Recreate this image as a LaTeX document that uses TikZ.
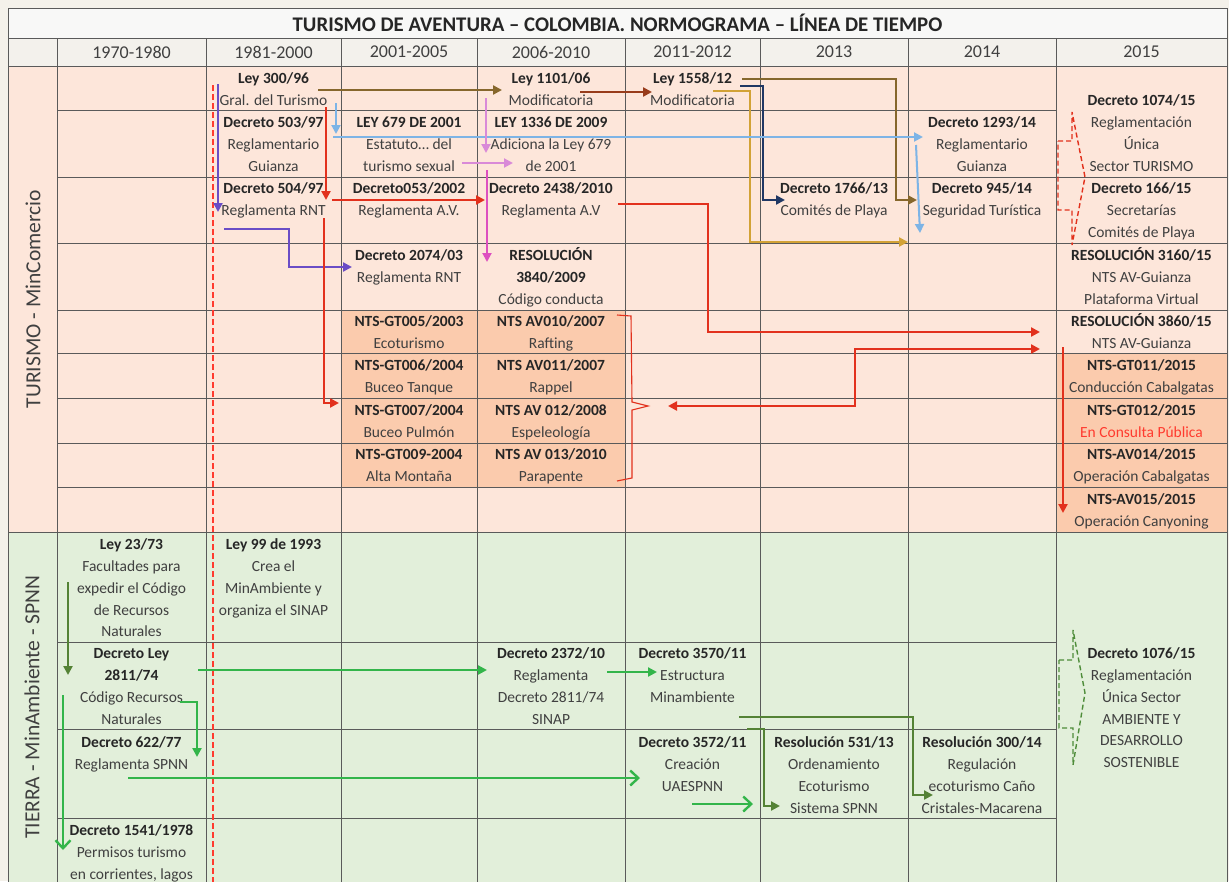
\documentclass[tikz,border=0pt]{standalone}
\usepackage{fontspec}
\setmainfont{Carlito}
\usetikzlibrary{arrows.meta}
\definecolor{bgout}{HTML}{F4F1EA}
\definecolor{hdr}{HTML}{F3F1EC}
\definecolor{ttl}{HTML}{F8F8F7}
\definecolor{pinkbg}{HTML}{FDE6DA}
\definecolor{orbg}{HTML}{FBCBAD}
\definecolor{grbg}{HTML}{E2EFDA}
\definecolor{gridc}{HTML}{5A5A5A}
\definecolor{txt}{HTML}{404040}
\definecolor{txtb}{HTML}{262626}
\definecolor{cred}{HTML}{E2311D}
\definecolor{cpink}{HTML}{FF3B2F}
\definecolor{cpurple}{HTML}{6A4DC6}
\definecolor{cbrown}{HTML}{86672C}
\definecolor{crust}{HTML}{983C1B}
\definecolor{cnavy}{HTML}{203864}
\definecolor{cgold}{HTML}{D2A236}
\definecolor{cblue}{HTML}{7DB4E6}
\definecolor{cpinkL}{HTML}{D98AD8}
\definecolor{cpinkD}{HTML}{DD50C0}
\definecolor{cgreen}{HTML}{33B54A}
\definecolor{cdgreen}{HTML}{548235}
\newcommand\bt[1]{\rule{0pt}{17pt}\textbf{\color{txtb}#1}}
\tikzset{
  gridl/.style={draw=gridc, line width=0.9pt},
  cell/.style={align=center, anchor=north, inner sep=0pt, font=\fontsize{15.5}{21.8}\selectfont, text=txt},
  yr/.style={inner sep=0pt, font=\fontsize{18}{21}\selectfont, text=txt},
  side/.style={inner sep=0pt, rotate=90, font=\fontsize{21.5}{24}\selectfont, text=txt},
  ar/.style={line width=2.6pt, -{Triangle[length=9pt,width=9pt]}},
  arthin/.style={line width=2pt, -{Triangle[length=9pt,width=9pt]}},
  arO/.style={line width=2.4pt, -{Straight Barb[length=8pt,width=15pt]}},
  blockar/.style={line width=1.4pt, dash pattern=on 5pt off 3pt}
}
\begin{document}
\begin{tikzpicture}[x=1pt,y=-1pt]
\useasboundingbox (0,0) rectangle (1229,881);
\clip (0,0) rectangle (1229,881);
\fill[bgout] (0,0) rectangle (1229,881);
% backgrounds
\fill[ttl] (8,8) rectangle (1227,38);
\fill[hdr] (8,38) rectangle (1227,66);
\fill[pinkbg] (8,66) rectangle (1227,532);
\fill[orbg] (341,310) rectangle (625,487);
\fill[orbg] (1056,353) rectangle (1227,532);
\fill[grbg] (8,532) rectangle (1227,900);
% grid
\draw[gridl] (8,8) rectangle (1227,900);
\draw[gridl] (8,38) -- (1227,38) (8,66) -- (1227,66) (8,532) -- (1227,532);
\foreach \x in {57,206,341,477,625,760,908,1056} \draw[gridl] (\x,38) -- (\x,900);
\draw[gridl] (57,110) -- (1056,110);
\foreach \y in {177,243,310,353,398,443,487} \draw[gridl] (57,\y) -- (1227,\y);
\foreach \y in {642,729,818} \draw[gridl] (57,\y) -- (1056,\y);
% title and years
\node[inner sep=0pt, font=\fontsize{20.8}{24}\selectfont\bfseries, text=txtb] (title) at (617.5,23) {TURISMO DE AVENTURA – COLOMBIA. NORMOGRAMA – LÍNEA DE TIEMPO};
\node[yr] (y1) at (131.5,52) {1970-1980};
\node[yr] (y2) at (273.5,52) {1981-2000};
\node[yr] (y3) at (409,52) {2001-2005};
\node[yr] (y4) at (551,52) {2006-2010};
\node[yr] (y5) at (692.5,52) {2011-2012};
\node[yr] (y6) at (834,52) {2013};
\node[yr] (y7) at (982,52) {2014};
\node[yr] (y8) at (1141.5,52) {2015};
\node[side] (lt) at (33,299) {TURISMO - MinComercio};
\node[side] (lg) at (32,707) {TIERRA - MinAmbiente - SPNN};
% 1970-1980
\node[cell] (n23) at (131.5,532.5) {\bt{Ley 23/73}\\Facultades para\\expedir el Código\\de Recursos\\Naturales};
\node[cell] (n2811) at (131.5,641.5) {\bt{Decreto Ley}\\\bt{2811/74}\\Código Recursos\\Naturales};
\node[cell] (n622) at (131.5,730.5) {\bt{Decreto 622/77}\\Reglamenta SPNN};
\node[cell] (n1541) at (131.5,818.5) {\bt{Decreto 1541/1978}\\Permisos turismo\\en corrientes, lagos};
% 1981-2000
\node[cell] (n300) at (273.5,66.5) {\bt{Ley 300/96}\\Gral. del Turismo};
\node[cell] (n503) at (273.5,110.5) {\bt{Decreto 503/97}\\Reglamentario\\Guianza};
\node[cell] (n504) at (273.5,176.5) {\bt{Decreto 504/97}\\Reglamenta RNT};
\node[cell] (n99) at (273.5,532.5) {\bt{Ley 99 de 1993}\\Crea el\\MinAmbiente y\\organiza el SINAP};
% 2001-2005
\node[cell] (n679) at (409,110.5) {\bt{LEY 679 DE 2001}\\Estatuto… del\\turismo sexual};
\node[cell] (n053) at (409,176.5) {\bt{Decreto053/2002}\\Reglamenta A.V.};
\node[cell] (n2074) at (409,243.5) {\bt{Decreto 2074/03}\\Reglamenta RNT};
\node[cell] (gt005) at (409,309.5) {\bt{NTS-GT005/2003}\\Ecoturismo};
\node[cell] (gt006) at (409,353.5) {\bt{NTS-GT006/2004}\\Buceo Tanque};
\node[cell] (gt007) at (409,398.5) {\bt{NTS-GT007/2004}\\Buceo Pulmón};
\node[cell] (gt009) at (409,442.5) {\bt{NTS-GT009-2004}\\Alta Montaña};
% 2006-2010
\node[cell] (n1101) at (551,66.5) {\bt{Ley 1101/06}\\Modificatoria};
\node[cell] (n1336) at (551,110.5) {\bt{LEY 1336 DE 2009}\\Adiciona la Ley 679\\de 2001};
\node[cell] (n2438) at (551,176.5) {\bt{Decreto 2438/2010}\\Reglamenta A.V};
\node[cell] (n3840) at (551,243.5) {\bt{RESOLUCIÓN}\\\bt{3840/2009}\\Código conducta};
\node[cell] (av010) at (551,309.5) {\bt{NTS AV010/2007}\\Rafting};
\node[cell] (av011) at (551,353.5) {\bt{NTS AV011/2007}\\Rappel};
\node[cell] (av012) at (551,398.5) {\bt{NTS AV 012/2008}\\Espeleología};
\node[cell] (av013) at (551,442.5) {\bt{NTS AV 013/2010}\\Parapente};
\node[cell] (n2372) at (551,641.5) {\bt{Decreto 2372/10}\\Reglamenta\\Decreto 2811/74\\SINAP};
% 2011-2012
\node[cell] (n1558) at (692.5,66.5) {\bt{Ley 1558/12}\\Modificatoria};
\node[cell] (n3570) at (692.5,641.5) {\bt{Decreto 3570/11}\\Estructura\\Minambiente};
\node[cell] (n3572) at (692.5,730.5) {\bt{Decreto 3572/11}\\Creación\\UAESPNN};
% 2013
\node[cell] (n1766) at (834,176.5) {\bt{Decreto 1766/13}\\Comités de Playa};
\node[cell] (n531) at (834,730.5) {\bt{Resolución 531/13}\\Ordenamiento\\Ecoturismo\\Sistema SPNN};
% 2014
\node[cell] (n1293) at (982,110.5) {\bt{Decreto 1293/14}\\Reglamentario\\Guianza};
\node[cell] (n945) at (982,176.5) {\bt{Decreto 945/14}\\Seguridad Turística};
\node[cell] (n300r) at (982,730.5) {\bt{Resolución 300/14}\\Regulación\\ecoturismo Caño\\Cristales-Macarena};
% 2015
\node[cell] (n1074) at (1141.5,88.5) {\bt{Decreto 1074/15}\\Reglamentación\\Única\\Sector TURISMO};
\node[cell] (n166) at (1141.5,176.5) {\bt{Decreto 166/15}\\Secretarías\\Comités de Playa};
\node[cell] (n3160) at (1141.5,243.5) {\bt{RESOLUCIÓN 3160/15}\\NTS AV-Guianza\\Plataforma Virtual};
\node[cell] (n3860) at (1141.5,309.5) {\bt{RESOLUCIÓN 3860/15}\\NTS AV-Guianza};
\node[cell] (gt011) at (1141.5,353.5) {\bt{NTS-GT011/2015}\\Conducción Cabalgatas};
\node[cell] (gt012) at (1141.5,398.5) {\bt{NTS-GT012/2015}\\\textcolor{cpink}{En Consulta Pública}};
\node[cell] (av014) at (1141.5,442.5) {\bt{NTS-AV014/2015}\\Operación Cabalgatas};
\node[cell] (av015) at (1141.5,487.5) {\bt{NTS-AV015/2015}\\Operación Canyoning};
\node[cell] (n1076) at (1141.5,641.5) {\bt{Decreto 1076/15}\\Reglamentación\\Única Sector\\AMBIENTE Y\\DESARROLLO\\SOSTENIBLE};
% block arrows
\draw[blockar, cred] (1058,141) -- (1072,141) -- (1072,112) -- (1085,177) -- (1072,245) -- (1072,210) -- (1058,210) -- cycle;
\draw[blockar, cdgreen!80!cgreen] (1059,660) -- (1073,660) -- (1073,630) -- (1085,693) -- (1073,765) -- (1073,728) -- (1059,728) -- cycle;
% bracket
\draw[cred, line width=1.1pt] (617,315) -- (631,316) -- (632,402) -- (648,406) -- (632,410) -- (632,478) -- (617,481);
% red dashed time line
\draw[cpink, line width=2pt, dash pattern=on 6pt off 3pt] (213,85) -- (213,900);
% purple
\draw[ar, cpurple] (218,84) -- (218,212);
\draw[ar, cpurple] (224,229) -- (289,229) -- (289,267) -- (352,267);
% browns / golds / navy
\draw[ar, cbrown] (318,90) -- (502,90);
\draw[ar, crust] (580,92) -- (652,92);
\draw[ar, cbrown] (742,79) -- (896,79) -- (896,200) -- (917,200);
\draw[ar, cnavy] (740,86) -- (763,86) -- (763,200) -- (785,200);
\draw[ar, cgold] (713,91) -- (750,91) -- (750,242) -- (908,242);
% light blue
\draw[arthin, cblue] (336,103) -- (336,134);
\draw[arthin, cblue] (333,137) -- (923,137);
\draw[arthin, cblue] (916,145) -- (920,233);
% pinks
\draw[arthin, cpinkL] (486,98) -- (486,153);
\draw[arthin, cpinkL] (462,163) -- (513,163);
\draw[arthin, cpinkD] (487,170) -- (487,262);
% reds
\draw[ar, cred] (326,107) -- (326,200);
\draw[ar, cred] (332,200) -- (485,200);
\draw[ar, cred] (324,218) -- (324,403) -- (339,403);
\draw[ar, cred] (618,204) -- (708,204) -- (708,332) -- (1040,332);
\draw[line width=2.6pt, cred, {Triangle[length=9pt,width=9pt]}-{Triangle[length=9pt,width=9pt]}] (668,406) -- (855,406) -- (855,349) -- (1040,349);
\draw[ar, cred] (1063,347) -- (1063,513);
% greens
\draw[ar, cdgreen] (68,582) -- (68,675);
\draw[arO, cgreen] (63,695) -- (63,850);
\draw[ar, cgreen] (198,670) -- (487,670);
\draw[ar, cgreen] (180,702) -- (197,702) -- (197,757);
\draw[arO, cgreen] (128,778) -- (640,778);
\draw[ar, cgreen] (607,672) -- (657,672);
\draw[arO, cgreen] (692,804) -- (753,804);
\draw[ar, cdgreen] (739,717) -- (913,717) -- (913,795) -- (933,795);
\draw[ar, cdgreen] (747,729) -- (764,729) -- (764,806) -- (780,806);
\end{tikzpicture}
\end{document}
